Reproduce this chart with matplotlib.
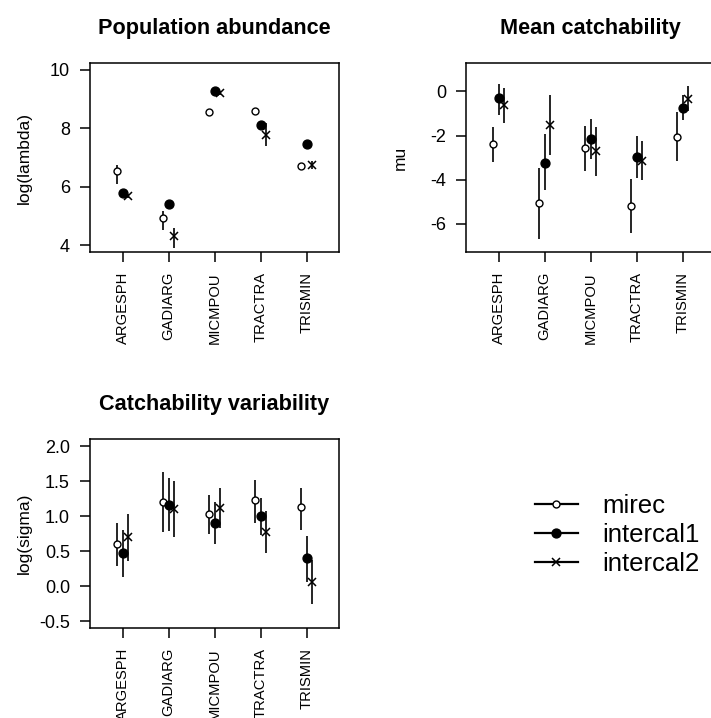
import matplotlib
matplotlib.use("Agg")
import matplotlib.pyplot as plt
from matplotlib.lines import Line2D
import numpy as np

plt.rcParams['font.family'] = ['Liberation Sans', 'DejaVu Sans']

species = ["ARGESPH", "GADIARG", "MICMPOU", "TRACTRA", "TRISMIN"]
series = ["mirec", "intercal1", "intercal2"]

# Population abundance: log(lambda)
lam_mirec = [6.53, 4.95, 8.54, 8.58, 6.72]
lam_mirec_lo = [6.10, 4.51, 8.48, 8.52, 6.66]
lam_mirec_hi = [6.75, 5.19, 8.60, 8.64, 6.78]
lam_ic1 = [5.79, 5.40, 9.28, 8.10, 7.45]
lam_ic1_lo = [5.72, 5.33, 9.21, 8.03, 7.38]
lam_ic1_hi = [5.86, 5.47, 9.35, 8.17, 7.52]
lam_ic2 = [5.69, 4.33, 9.20, 7.78, 6.75]
lam_ic2_lo = [5.63, 3.91, 9.14, 7.38, 6.62]
lam_ic2_hi = [5.75, 4.59, 9.26, 8.18, 6.88]

# Mean catchability: mu
mu_mirec = [-2.39, -5.05, -2.57, -5.17, -2.04]
mu_mirec_lo = [-3.20, -6.68, -3.60, -6.42, -3.17]
mu_mirec_hi = [-1.63, -3.47, -1.56, -3.97, -0.95]
mu_ic1 = [-0.30, -3.22, -2.16, -2.95, -0.76]
mu_ic1_lo = [-1.06, -4.46, -3.07, -3.93, -1.28]
mu_ic1_hi = [0.33, -1.93, -1.25, -2.01, -0.15]
mu_ic2 = [-0.63, -1.51, -2.69, -3.13, -0.35]
mu_ic2_lo = [-1.43, -2.87, -3.82, -4.00, -0.88]
mu_ic2_hi = [0.15, -0.15, -1.62, -2.24, 0.23]

# Catchability variability: log(sigma)
sig_mirec = [0.61, 1.20, 1.04, 1.23, 1.13]
sig_mirec_lo = [0.29, 0.77, 0.75, 0.91, 0.80]
sig_mirec_hi = [0.91, 1.64, 1.31, 1.52, 1.40]
sig_ic1 = [0.47, 1.16, 0.91, 1.00, 0.40]
sig_ic1_lo = [0.14, 0.79, 0.61, 0.73, 0.06]
sig_ic1_hi = [0.80, 1.55, 1.21, 1.26, 0.72]
sig_ic2 = [0.70, 1.10, 1.12, 0.77, 0.06]
sig_ic2_lo = [0.36, 0.70, 0.83, 0.48, -0.26]
sig_ic2_hi = [1.03, 1.51, 1.40, 1.07, 0.38]

W, H = 711, 718
fig = plt.figure(figsize=(W / 100, H / 100), dpi=100)

def px_axes(left, top, right, bottom):
    return fig.add_axes([left / W, 1 - bottom / H, (right - left) / W, (bottom - top) / H])

offsets = [-0.12, 0.0, 0.11]
styles = [
    dict(marker='o', mfc='white', mec='black', ms=5.0, mew=1.0),
    dict(marker='o', mfc='black', mec='black', ms=6.4, mew=1.0),
    dict(marker='x', mfc='black', mec='black', ms=5.8, mew=1.1),
]

def panel(ax, title, ylabel, data, ylim, yticks, yticklabels):
    x = np.arange(1, len(species) + 1)
    for k, (est, lo, hi) in enumerate(data):
        xs = x + offsets[k]
        ax.vlines(xs, lo, hi, color='black', lw=1.2, zorder=2)
        ax.plot(xs, est, ls='none', zorder=3, **styles[k])
    ax.set_xlim(0.29, 5.70)
    ax.set_ylim(*ylim)
    ax.set_xticks(x)
    ax.set_xticklabels(species, rotation=90, fontsize=10.6)
    ax.set_yticks(yticks)
    ax.set_yticklabels(yticklabels, fontsize=13)
    ax.tick_params(direction='out', length=7.2, width=1.1, pad=7.2)
    for s in ax.spines.values():
        s.set_linewidth(1.1)
    ax.set_title(title, fontsize=15.6, fontweight='bold', pad=21)
    ax.set_ylabel(ylabel, fontsize=12.5)
    ax.yaxis.set_label_coords(-58 / 249, 0.5)

ax1 = px_axes(90, 63, 339, 252)
panel(ax1, "Population abundance", "log(lambda)",
      [(lam_mirec, lam_mirec_lo, lam_mirec_hi),
       (lam_ic1, lam_ic1_lo, lam_ic1_hi),
       (lam_ic2, lam_ic2_lo, lam_ic2_hi)],
      (3.775, 10.23), [4, 6, 8, 10], ["4", "6", "8", "10"])

ax2 = px_axes(466, 63, 715, 252)
panel(ax2, "Mean catchability", "mu",
      [(mu_mirec, mu_mirec_lo, mu_mirec_hi),
       (mu_ic1, mu_ic1_lo, mu_ic1_hi),
       (mu_ic2, mu_ic2_lo, mu_ic2_hi)],
      (-7.27, 1.29), [-6, -4, -2, 0], ["-6", "-4", "-2", "0"])

ax3 = px_axes(90, 439, 339, 628)
panel(ax3, "Catchability variability", "log(sigma)",
      [(sig_mirec, sig_mirec_lo, sig_mirec_hi),
       (sig_ic1, sig_ic1_lo, sig_ic1_hi),
       (sig_ic2, sig_ic2_lo, sig_ic2_hi)],
      (-0.596, 2.106), [-0.5, 0.0, 0.5, 1.0, 1.5, 2.0],
      ["-0.5", "0.0", "0.5", "1.0", "1.5", "2.0"])

handles = [Line2D([0], [0], color='black', lw=1.6, **styles[k]) for k in range(3)]
fig.legend(handles, series, loc='upper left',
           bbox_to_anchor=(535 / W, 1 - 494 / H), frameon=False,
           fontsize=18.5, handlelength=1.67, handletextpad=0.95,
           labelspacing=0.2, borderpad=0, borderaxespad=0)

fig.savefig("out.png", dpi=100)
